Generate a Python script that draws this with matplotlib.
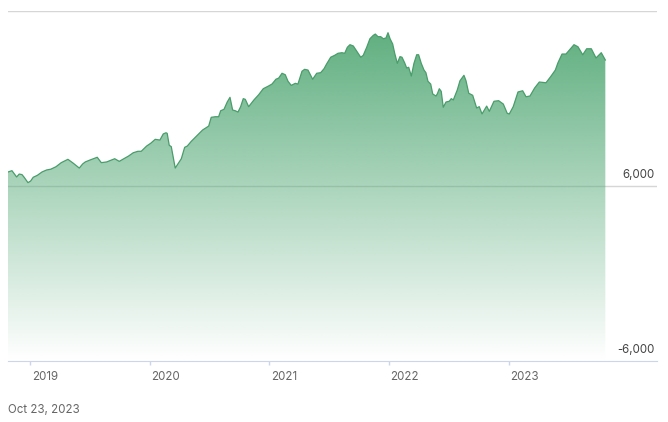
import numpy as np
import matplotlib.pyplot as plt
from matplotlib.colors import to_rgb

plt.rcParams['font.family'] = ['Inter', 'DejaVu Sans']

# time in decimal years, value of the series
years = [2018.814, 2018.847, 2018.886, 2018.908, 2018.931, 2018.947, 2018.981, 2019.003,
         2019.025, 2019.059, 2019.098, 2019.137, 2019.171, 2019.215, 2019.259, 2019.315,
         2019.360, 2019.410, 2019.438, 2019.460, 2019.499, 2019.560, 2019.594, 2019.639,
         2019.666, 2019.706, 2019.744, 2019.783, 2019.823, 2019.861, 2019.900, 2019.928,
         2019.973, 2020.007, 2020.045, 2020.084, 2020.112, 2020.135, 2020.145, 2020.162,
         2020.179, 2020.212, 2020.246, 2020.263, 2020.291, 2020.313, 2020.346, 2020.391,
         2020.441, 2020.492, 2020.513, 2020.547, 2020.575, 2020.592, 2020.620, 2020.647,
         2020.670, 2020.692, 2020.714, 2020.737, 2020.759, 2020.781, 2020.798, 2020.826,
         2020.870, 2020.910, 2020.948, 2020.993, 2021.021, 2021.054, 2021.077, 2021.105,
         2021.132, 2021.155, 2021.182, 2021.216, 2021.238, 2021.272, 2021.294, 2021.322,
         2021.361, 2021.395, 2021.428, 2021.456, 2021.478, 2021.512, 2021.545, 2021.573,
         2021.606, 2021.629, 2021.651, 2021.673, 2021.701, 2021.734, 2021.763, 2021.784,
         2021.813, 2021.840, 2021.868, 2021.885, 2021.907, 2021.930, 2021.952, 2021.974,
         2021.991, 2022.008, 2022.030, 2022.047, 2022.069, 2022.091, 2022.108, 2022.130,
         2022.147, 2022.164, 2022.186, 2022.208, 2022.231, 2022.247, 2022.269, 2022.292,
         2022.308, 2022.325, 2022.348, 2022.365, 2022.392, 2022.403, 2022.420, 2022.436,
         2022.453, 2022.476, 2022.503, 2022.520, 2022.537, 2022.570, 2022.593, 2022.626,
         2022.643, 2022.666, 2022.699, 2022.732, 2022.754, 2022.777, 2022.816, 2022.838,
         2022.877, 2022.916, 2022.955, 2022.988, 2023.005, 2023.038, 2023.078, 2023.117,
         2023.145, 2023.178, 2023.217, 2023.256, 2023.312, 2023.351, 2023.390, 2023.412,
         2023.446, 2023.479, 2023.512, 2023.546, 2023.579, 2023.619, 2023.652, 2023.691,
         2023.730, 2023.774, 2023.808]
values = [6960, 7050, 6620, 6820, 6780, 6620, 6230, 6340,
          6600, 6730, 6960, 7100, 7150, 7320, 7600, 7830,
          7560, 7230, 7510, 7650, 7780, 7970, 7600, 7650,
          7740, 7870, 7690, 7870, 8060, 8280, 8380, 8380,
          8740, 8930, 9200, 9150, 9570, 9650, 9610, 8790,
          8700, 7230, 7650, 7870, 8650, 8740, 9060, 9430,
          9840, 10110, 10710, 10750, 10750, 11160, 11260, 11760,
          12080, 11210, 11160, 11070, 11440, 11990, 11940, 11440,
          11900, 12260, 12670, 12860, 12990, 13320, 13400, 13730,
          13630, 13180, 12900, 13040, 12990, 13870, 14000, 13950,
          13320, 13730, 13770, 14040, 14370, 14830, 14960, 15100,
          15140, 15100, 15510, 15690, 15600, 15190, 14830, 14960,
          15510, 16100, 16330, 16420, 16240, 16240, 16100, 16150,
          16510, 16100, 15740, 15100, 14410, 14870, 14830, 14450,
          14090, 14140, 13540, 14410, 15000, 15000, 14410, 13950,
          13770, 13180, 12990, 12310, 12170, 12310, 12670, 12490,
          11400, 11760, 11810, 11990, 11900, 12580, 13220, 13590,
          13220, 12360, 12220, 11350, 11440, 10940, 11480, 11120,
          11810, 11850, 11620, 10980, 10940, 11440, 12450, 12530,
          12120, 12170, 12720, 13130, 13080, 13500, 13950, 14450,
          15050, 15050, 15370, 15690, 15550, 15000, 15410, 15410,
          14780, 15140, 14640]

year_ticks = [2019, 2020, 2021, 2022, 2023]
y_labels = {6000: '6,000', -6000: '-6,000'}
date_label = 'Oct 23, 2023'

GREEN = '#56aa78'
LINE = '#4a9c6b'
ymin, ymax = -6000, 18000

fig = plt.figure(figsize=(6.68, 4.22), dpi=100)
ax = fig.add_axes([8 / 668, 1 - 361 / 422, 649 / 668, 350 / 422])
ax.set_xlim(years[0], 2024.24)
ax.set_ylim(ymin, ymax)

# gridlines
for g in [6000, 18000]:
    ax.axhline(g, color='#d6d6d6', lw=1, zorder=0)

# gradient area
poly = ax.fill_between(years, values, ymin, color='none', lw=0)
rgb = to_rgb(GREEN)
grad = np.zeros((256, 1, 4))
grad[:, 0, :3] = rgb
grad[:, 0, 3] = np.linspace(1.0, 0.0, 256)
im = ax.imshow(grad, aspect='auto', extent=[years[0], years[-1], ymin, ymax],
               origin='upper', zorder=1, interpolation='bilinear')
im.set_clip_path(poly.get_paths()[0], transform=ax.transData)
ax.plot(years, values, color=LINE, lw=0.9, zorder=2)

# axes styling
for s in ['top', 'right', 'left']:
    ax.spines[s].set_visible(False)
ax.spines['bottom'].set_color('#ccd6eb')
ax.spines['bottom'].set_zorder(3)
ax.set_yticks([])
ax.set_xticks(year_ticks)
ax.tick_params(axis='x', length=3, width=1, color='#ccd6eb', labelbottom=False)

for yr in year_ticks:
    ax.text(yr + 0.012, -(377 - 361) / 350, str(yr), transform=ax.get_xaxis_transform(),
            ha='left', va='center', fontsize=8.3, color='#666666')

for val, lab in y_labels.items():
    ax.annotate(lab, xy=(1.0, val), xycoords=('axes fraction', 'data'),
                xytext=(-1.5, 3.5), textcoords='offset points',
                ha='right', va='bottom', fontsize=8.3, color='#444444')

fig.text(8 / 668, 1 - 410 / 422, date_label, ha='left', va='center',
         fontsize=8.3, color='#666666')

fig.savefig('out.png', dpi=100)
